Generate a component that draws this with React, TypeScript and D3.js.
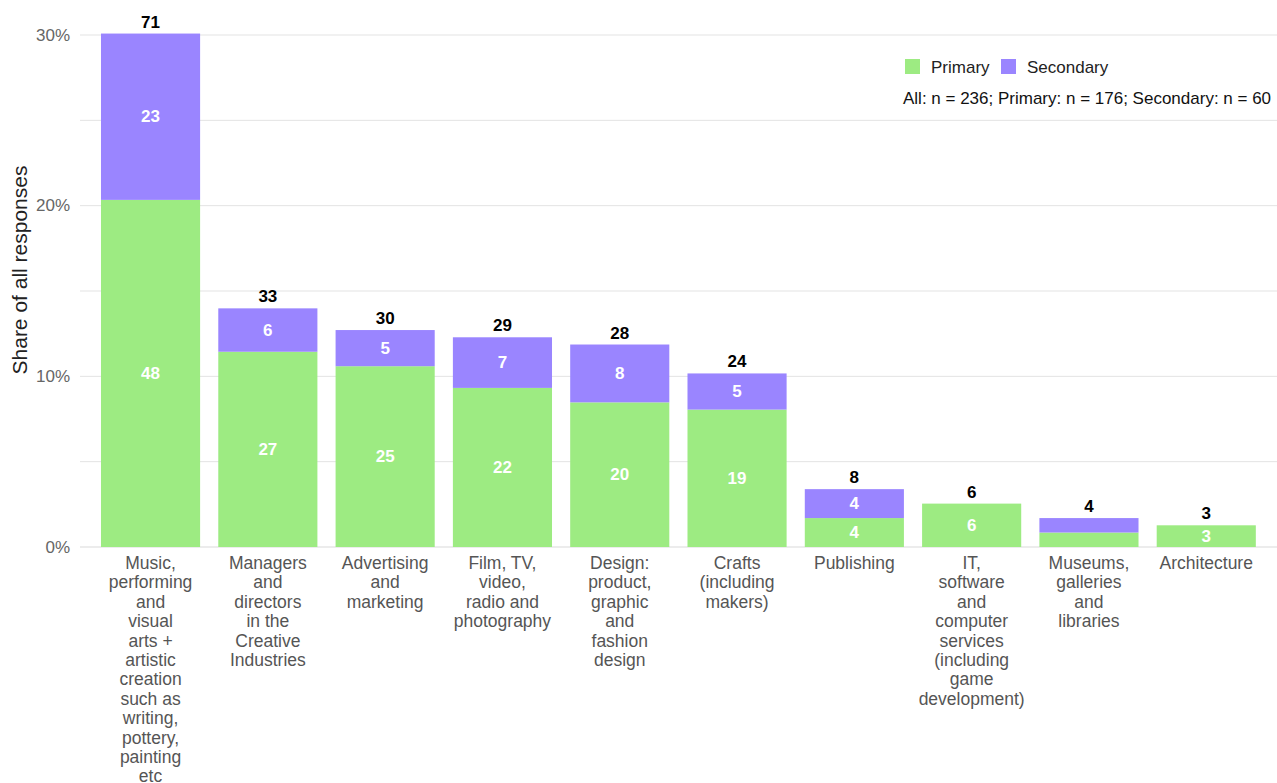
import React, { useEffect } from "react";
import * as d3 from "d3";

const categories: string[][] = [
  ["Music,", "performing", "and", "visual", "arts +", "artistic", "creation", "such as", "writing,", "pottery,", "painting", "etc"],
  ["Managers", "and", "directors", "in the", "Creative", "Industries"],
  ["Advertising", "and", "marketing"],
  ["Film, TV,", "video,", "radio and", "photography"],
  ["Design:", "product,", "graphic", "and", "fashion", "design"],
  ["Crafts", "(including", "makers)"],
  ["Publishing"],
  ["IT,", "software", "and", "computer", "services", "(including", "game", "development)"],
  ["Museums,", "galleries", "and", "libraries"],
  ["Architecture"],
];
const primary = [48, 27, 25, 22, 20, 19, 4, 6, 2, 3];
const secondary = [23, 6, 5, 7, 8, 5, 4, 0, 2, 0];
const totalN = 236;
const yTicks = [0, 0.1, 0.2, 0.3];
const gridTicks = [0, 0.05, 0.1, 0.15, 0.2, 0.25, 0.3];
const seriesNames = ["Primary", "Secondary"];
const noteText = "All: n = 236; Primary: n = 176; Secondary: n = 60";

const W = 1277;
const H = 783;
const GREEN = "#9deb82";
const PURPLE = "#9a85ff";
const FONT = "'Liberation Sans', Arial, Helvetica, sans-serif";

export default function App() {
  useEffect(() => {
    document.body.style.margin = "0";
  }, []);

  const x = d3
    .scaleBand<number>()
    .domain(d3.range(categories.length))
    .range([91.6, 1265.2])
    .paddingInner(0.155)
    .paddingOuter(0.08);
  const y = d3.scaleLinear().domain([0, 0.3]).range([547, 35]);
  const bw = x.bandwidth();

  return (
    <svg width={W} height={H} style={{ display: "block", background: "#fff" }} fontFamily={FONT}>
      {gridTicks.map((t) => (
        <line key={t} x1={80} x2={W} y1={y(t)} y2={y(t)} stroke={t === 0 ? "#d9d9d9" : "#e3e3e3"} strokeWidth={1} />
      ))}
      {yTicks.map((t) => (
        <text key={t} x={70} y={y(t)} textAnchor="end" dominantBaseline="central" fontSize={17} fill="#666">
          {d3.format(".0%")(t)}
        </text>
      ))}
      <text
        transform={`translate(19, 270) rotate(-90)`}
        textAnchor="middle"
        dominantBaseline="central"
        fontSize={21}
        fill="#222"
      >
        Share of all responses
      </text>
      {categories.map((lines, i) => {
        const p = primary[i];
        const s = secondary[i];
        const x0 = x(i)!;
        const cx = x0 + bw / 2;
        const yP = y(p / totalN);
        const yT = y((p + s) / totalN);
        const hP = y(0) - yP;
        const hS = yP - yT;
        return (
          <g key={i}>
            <rect x={x0} y={yP} width={bw} height={hP} fill={GREEN} />
            {s > 0 && <rect x={x0} y={yT} width={bw} height={hS} fill={PURPLE} />}
            {hP > 20 && (
              <text x={cx} y={(yP + y(0)) / 2} textAnchor="middle" dominantBaseline="central" fontSize={17} fontWeight="bold" fill="#fff">
                {p}
              </text>
            )}
            {s > 0 && hS > 20 && (
              <text x={cx} y={(yT + yP) / 2} textAnchor="middle" dominantBaseline="central" fontSize={17} fontWeight="bold" fill="#fff">
                {s}
              </text>
            )}
            <text x={cx} y={yT - 6} textAnchor="middle" fontSize={17} fontWeight="bold" fill="#000">
              {p + s}
            </text>
            <text x={cx} y={569} textAnchor="middle" fontSize={17.5} fill="#555">
              {lines.map((ln, j) => (
                <tspan key={j} x={cx} dy={j === 0 ? 0 : 19.4}>
                  {ln}
                </tspan>
              ))}
            </text>
          </g>
        );
      })}
      <g>
        <rect x={905} y={59} width={15} height={15} fill={GREEN} />
        <text x={931} y={67} dominantBaseline="central" fontSize={17} fill="#222">
          {seriesNames[0]}
        </text>
        <rect x={1001} y={59} width={15} height={15} fill={PURPLE} />
        <text x={1027} y={67} dominantBaseline="central" fontSize={17} fill="#222">
          {seriesNames[1]}
        </text>
        <text x={903} y={98} dominantBaseline="central" fontSize={17} fill="#111">
          {noteText}
        </text>
      </g>
    </svg>
  );
}
